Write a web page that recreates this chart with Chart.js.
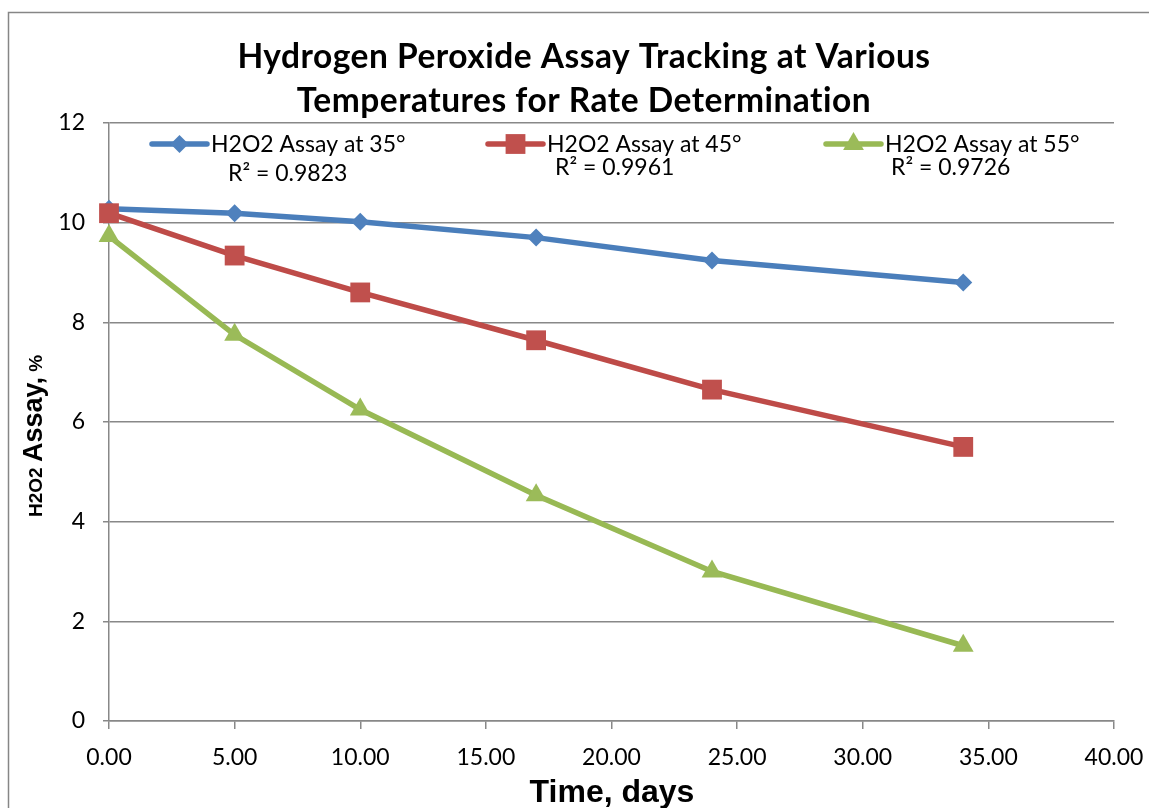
<!DOCTYPE html>
<html>
<head>
<meta charset="utf-8">
<title>Hydrogen Peroxide Assay Tracking</title>
<script src="https://cdn.jsdelivr.net/npm/chart.js@4.4.1/dist/chart.umd.min.js"></script>
<style>
  html, body { margin: 0; padding: 0; background: #fff; }
  #wrap { width: 1149px; height: 808px; }
</style>
</head>
<body>
<div id="wrap"><canvas id="assay-chart" width="1149" height="808"></canvas></div>
<script>
// sampling days and measured assay (%) at each storage temperature
const days = [0, 5, 10, 17, 24, 34];
const assay35 = [10.28, 10.19, 10.02, 9.70, 9.24, 8.80];
const assay45 = [10.19, 9.34, 8.60, 7.64, 6.65, 5.50];
const assay55 = [9.73, 7.75, 6.25, 4.53, 3.00, 1.51];

const seriesNames = ['H2O2 Assay at 35°', 'H2O2 Assay at 45°', 'H2O2 Assay at 55°'];
const rSquared = ['0.9823', '0.9961', '0.9726'];
const titleLines = ['Hydrogen Peroxide Assay Tracking at Various', 'Temperatures for Rate Determination'];
const xTitle = 'Time, days';

const lineColors = ['#4A7EBB', '#BE4B48', '#98B954'];
const markerColors = ['#4F81BD', '#C0504D', '#9BBB59'];
const markerStyles = ['rectRot', 'rect', 'triangle'];
const markerSizes = [9, 14, 12];

const calibri = 'Lato, "Open Sans", sans-serif';
const arial = '"Liberation Sans", Arial, sans-serif';
const gridGray = '#888888';

function toPoints(ys) {
    return days.map((d, i) => ({ x: d, y: ys[i] }));
}

const datasets = [assay35, assay45, assay55].map((ys, i) => ({
    label: seriesNames[i],
    data: toPoints(ys),
    borderColor: lineColors[i],
    backgroundColor: markerColors[i],
    borderWidth: 5.5,
    pointStyle: markerStyles[i],
    pointRadius: markerSizes[i],
    pointHoverRadius: markerSizes[i],
    pointBorderWidth: 0,
    pointBackgroundColor: markerColors[i],
    tension: 0,
    clip: false,
    order: 3 - i
}));

// little marker shapes for the legend
function drawMarker(ctx, style, x, y, r) {
    ctx.beginPath();
    if (style === 'rectRot') {
        ctx.moveTo(x, y - r);
        ctx.lineTo(x + r, y);
        ctx.lineTo(x, y + r);
        ctx.lineTo(x - r, y);
    } else if (style === 'rect') {
        const s = r * Math.SQRT1_2;
        ctx.rect(x - s, y - s, 2 * s, 2 * s);
    } else {
        const w = r * Math.sqrt(3) / 2;
        ctx.moveTo(x, y - r);
        ctx.lineTo(x + w, y + r / 2);
        ctx.lineTo(x - w, y + r / 2);
    }
    ctx.closePath();
    ctx.fill();
}

const legendSpots = [
    { x: 152, r2x: 228, r2y: 181 },
    { x: 488, r2x: 555, r2y: 175 },
    { x: 826, r2x: 891, r2y: 175 }
];

const decorPlugin = {
    id: 'decor',
    beforeDraw(chart) {
        const ctx = chart.ctx;
        ctx.save();
        ctx.fillStyle = '#ffffff';
        ctx.fillRect(0, 0, chart.width, chart.height);
        // outer chart frame
        ctx.strokeStyle = '#868686';
        ctx.lineWidth = 1.5;
        ctx.strokeRect(8.5, 12.5, 1200, 900);
        ctx.restore();
    },
    afterDraw(chart) {
        const ctx = chart.ctx;
        ctx.save();
        ctx.fillStyle = '#000';

        // title (small letter spacing also keeps "ti" from joining)
        ctx.font = 'bold 33.5px ' + calibri;
        ctx.letterSpacing = '0.5px';
        ctx.textAlign = 'center';
        ctx.textBaseline = 'alphabetic';
        ctx.fillText(titleLines[0], 584, 68);
        ctx.fillText(titleLines[1], 584, 112);
        ctx.letterSpacing = '0px';

        // x axis title
        ctx.font = 'bold 32px ' + arial;
        ctx.fillText(xTitle, 612, 802);

        // y axis title, mixed sizes
        ctx.save();
        ctx.translate(42, 517);
        ctx.rotate(-Math.PI / 2);
        ctx.textAlign = 'left';
        let pos = 0;
        [['H2O2 ', 19], ['Assay,', 27], [' %', 19]].forEach(([txt, size]) => {
            ctx.font = 'bold ' + size + 'px ' + arial;
            ctx.fillText(txt, pos, 0);
            pos += ctx.measureText(txt).width;
        });
        ctx.restore();

        // legend with trendline R² under each entry
        ctx.textAlign = 'left';
        chart.data.datasets.forEach((ds, i) => {
            const spot = legendSpots[i];
            const y = 144;
            ctx.strokeStyle = ds.borderColor;
            ctx.lineWidth = 5.5;
            ctx.lineCap = 'round';
            ctx.beginPath();
            ctx.moveTo(spot.x, y);
            ctx.lineTo(spot.x + 55, y);
            ctx.stroke();
            ctx.fillStyle = ds.pointBackgroundColor;
            drawMarker(ctx, ds.pointStyle, spot.x + 27.5, y, ds.pointRadius);
            ctx.fillStyle = '#000';
            ctx.font = '23px ' + calibri;
            ctx.fillText(ds.label, spot.x + 59, 152);
            ctx.fillText('R² = ' + rSquared[i], spot.r2x, spot.r2y);
        });
        ctx.restore();
    }
};

const ctx = document.getElementById('assay-chart').getContext('2d');
const chart = new Chart(ctx, {
    type: 'line',
    data: { datasets: datasets },
    plugins: [decorPlugin],
    options: {
        responsive: false,
        animation: false,
        events: [],
        layout: { padding: { left: 0, right: 35, top: 123, bottom: 0 } },
        plugins: {
            legend: { display: false },
            title: { display: false },
            tooltip: { enabled: false }
        },
        scales: {
            x: {
                type: 'linear',
                min: 0,
                max: 40,
                ticks: {
                    stepSize: 5,
                    padding: 15,
                    color: '#000',
                    font: { family: calibri, size: 23 },
                    callback: v => v.toFixed(2)
                },
                grid: {
                    drawOnChartArea: false,
                    drawTicks: true,
                    tickLength: 8,
                    color: gridGray,
                    lineWidth: 1.5
                },
                border: { color: gridGray, width: 1.5 },
                afterFit(scale) {
                    scale.height = 87;
                    scale.paddingLeft = 0;
                    scale.paddingRight = 0;
                }
            },
            y: {
                min: 0,
                max: 12,
                ticks: {
                    stepSize: 2,
                    padding: 18,
                    color: '#000',
                    font: { family: calibri, size: 23 }
                },
                grid: {
                    color: gridGray,
                    lineWidth: 1.5,
                    tickLength: 6
                },
                border: { color: gridGray, width: 1.5 },
                afterFit(scale) {
                    scale.width = 109;
                    scale.paddingTop = 0;
                    scale.paddingBottom = 0;
                }
            }
        }
    }
});
</script>
</body>
</html>
